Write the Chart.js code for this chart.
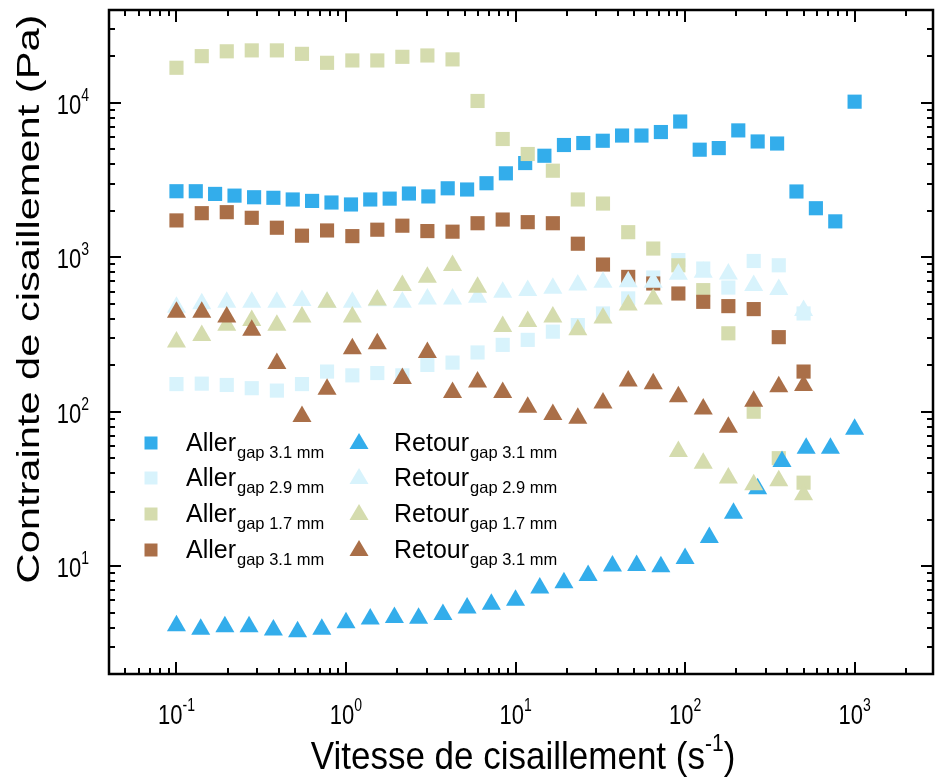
<!DOCTYPE html>
<html>
<head>
<meta charset="utf-8">
<script src="https://cdn.jsdelivr.net/npm/chart.js@4.4.0/dist/chart.umd.min.js"></script>
<style>
  html, body { margin: 0; padding: 0; background: #fff; }
  canvas { display: block; }
</style>
</head>
<body>
<canvas id="mainChart" width="936" height="782"></canvas>
<script>
// shear rates (s-1) for each measurement run
const shearA = [0.1, 0.13, 0.169, 0.22, 0.287, 0.373, 0.485, 0.631, 0.821, 1.07, 1.39, 1.81, 2.35, 3.06, 3.98, 5.18, 6.74, 8.77, 11.4, 14.8, 19.3, 25.1, 32.7, 42.5, 55.3, 72.0, 93.6, 122, 158, 206, 268, 349, 454, 591, 769, 1000];
const shearB = [0.1, 0.139, 0.193, 0.268, 0.373, 0.518, 0.72, 1, 1.39, 1.93, 2.68, 3.73, 5.18, 7.2, 10, 13.9, 19.3, 26.8, 37.3, 51.8, 72, 100, 139, 193, 268, 373, 518, 720, 1000];
const shearC = [0.1, 0.141, 0.198, 0.278, 0.391, 0.55, 0.773, 1.09, 1.53, 2.15, 3.02, 4.25, 5.97, 8.4, 11.8, 16.6, 23.3, 32.8, 46.2, 64.9, 91.3, 128, 180, 254, 357, 500];

// shear stress (Pa)
const allerBlue = [2680, 2680, 2575, 2510, 2450, 2430, 2370, 2320, 2265, 2200, 2370, 2400, 2590, 2480, 2800, 2750, 3020, 3500, 4080, 4550, 5340, 5500, 5690, 6150, 6150, 6480, 7580, 4980, 5100, 6640, 5630, 5460, 2670, 2080, 1710, 10190];
const allerLightBlue = [151, 152, 149, 142, 137, 151, 182, 172, 178, 172, 201, 208, 242, 271, 292, 330, 364, 433, 542, 740, 960, 846, 637, 947, 888, 433];
const allerGreen = [16900, 20100, 21600, 21900, 21900, 20800, 18200, 18850, 18850, 19900, 20300, 19150, 10300, 5840, 4670, 3640, 2370, 2230, 1455, 1140, 888, 613, 322, 100, 50, 34.7];
const allerBrown = [1734, 1932, 1961, 1803, 1555, 1381, 1493, 1372, 1510, 1603, 1479, 1466, 1663, 1757, 1690, 1663, 1225, 898, 747, 677, 583, 515, 483, 462, 304, 182];
const retourBlue = [4.1, 3.9, 4.05, 4.05, 3.85, 3.75, 3.9, 4.3, 4.55, 4.65, 4.6, 4.85, 5.35, 5.65, 6.0, 7.2, 7.8, 8.7, 10.0, 10.1, 9.9, 11.2, 15.3, 22.0, 31.7, 47.5, 58, 58, 77];
const retourLightBlue = [475, 500, 512, 512, 512, 526, 512, 512, 524, 512, 538, 538, 551, 595, 610, 630, 662, 690, 696, 690, 776, 800, 780, 657, 618, 453];
const retourGreen = [283, 312, 363, 390, 363, 410, 512, 410, 530, 657, 743, 884, 639, 357, 384, 410, 340, 404, 492, 538, 55.2, 46.4, 37.2, 33.7, 35.7, 29.0];
const retourBrown = [441, 441, 410, 337, 205, 93, 140, 256, 276, 164, 242, 133, 156, 133, 107, 96, 90.6, 114, 158, 152, 125, 104, 79.3, 117, 145, 148];

const legendMain = ["Aller", "Aller", "Aller", "Aller", "Retour", "Retour", "Retour", "Retour"];
const legendSub = ["gap 3.1 mm", "gap 2.9 mm", "gap 1.7 mm", "gap 3.1 mm", "gap 3.1 mm", "gap 2.9 mm", "gap 1.7 mm", "gap 3.1 mm"];

const xTicks = [0.1, 1, 10, 100, 1000];
const xTickExp = ["-1", "0", "1", "2", "3"];
const yTicks = [10, 100, 1000, 10000];
const yTickExp = ["1", "2", "3", "4"];

const colors = {
  blue: "#33adeb",
  lightBlue: "#d8f3fc",
  green: "#d5dcae",
  brown: "#aa6f48",
};

const FONT = '"Liberation Sans", Arial, Helvetica, sans-serif';

function makeSeries(xs, ys) {
  return xs.map((x, i) => ({ x: x, y: ys[i] }));
}

const seriesList = [
  { data: makeSeries(shearA, allerBlue), color: colors.blue, style: "rect" },
  { data: makeSeries(shearC, allerLightBlue), color: colors.lightBlue, style: "rect" },
  { data: makeSeries(shearC, allerGreen), color: colors.green, style: "rect" },
  { data: makeSeries(shearC, allerBrown), color: colors.brown, style: "rect" },
  { data: makeSeries(shearB, retourBlue), color: colors.blue, style: "triangle" },
  { data: makeSeries(shearC, retourLightBlue), color: colors.lightBlue, style: "triangle" },
  { data: makeSeries(shearC, retourGreen), color: colors.green, style: "triangle" },
  { data: makeSeries(shearC, retourBrown), color: colors.brown, style: "triangle" },
];

const datasets = seriesList.map((s, i) => ({
  label: legendMain[i] + " " + legendSub[i],
  data: s.data,
  pointStyle: s.style,
  pointRadius: s.style === "rect" ? 10 : 11,
  backgroundColor: s.color,
  borderColor: s.color,
  borderWidth: 0,
  showLine: false,
  order: 8 - i, // later series on top
}));

// draws a string, slightly stretched vertically like the source figure
function txt(ctx, s, x, y, size, align, sy) {
  ctx.save();
  ctx.translate(x, y);
  ctx.scale(1, sy);
  ctx.font = size + "px " + FONT;
  ctx.textAlign = align;
  ctx.textBaseline = "alphabetic";
  ctx.fillText(s, 0, 0);
  ctx.restore();
}

function measure(ctx, s, size) {
  ctx.font = size + "px " + FONT;
  return ctx.measureText(s).width;
}

const framePlugin = {
  id: "frame",
  afterDraw(chart) {
    const ctx = chart.ctx;
    const a = chart.chartArea;
    const xs = chart.scales.x;
    const ys = chart.scales.y;
    ctx.save();
    ctx.fillStyle = "#000";
    ctx.strokeStyle = "#000";

    // inward ticks on all four sides
    ctx.lineWidth = 2;
    ctx.beginPath();
    for (let d = -2; d <= 3; d++) {
      for (let m = 1; m <= 9; m++) {
        const v = m * Math.pow(10, d);
        if (v < xs.min || v > xs.max) continue;
        const p = Math.round(xs.getPixelForValue(v));
        const len = m === 1 ? 12 : 6;
        ctx.moveTo(p, a.bottom); ctx.lineTo(p, a.bottom - len);
        ctx.moveTo(p, a.top); ctx.lineTo(p, a.top + len);
      }
    }
    for (let d = 0; d <= 4; d++) {
      for (let m = 1; m <= 9; m++) {
        const v = m * Math.pow(10, d);
        if (v < ys.min || v > ys.max) continue;
        const p = Math.round(ys.getPixelForValue(v));
        const len = m === 1 ? 12 : 6;
        ctx.moveTo(a.left, p); ctx.lineTo(a.left + len, p);
        ctx.moveTo(a.right, p); ctx.lineTo(a.right - len, p);
      }
    }
    ctx.stroke();

    ctx.lineWidth = 2.5;
    ctx.strokeRect(a.left, a.top, a.right - a.left, a.bottom - a.top);

    // tick labels
    xTicks.forEach((v, i) => {
      const p = xs.getPixelForValue(v);
      const w10 = measure(ctx, "10", 22);
      const we = measure(ctx, xTickExp[i], 14);
      const x0 = p - (w10 + we) / 2;
      txt(ctx, "10", x0, 724, 22, "left", 1.25);
      txt(ctx, xTickExp[i], x0 + w10, 711, 14, "left", 1.25);
    });
    yTicks.forEach((v, i) => {
      const p = ys.getPixelForValue(v);
      const we = measure(ctx, yTickExp[i], 14);
      const right = a.left - 20;
      txt(ctx, yTickExp[i], right, p - 2, 14, "right", 1.25);
      txt(ctx, "10", right - we, p + 11, 22, "right", 1.25);
    });

    // axis titles
    const tw = measure(ctx, "Vitesse de cisaillement (s", 35);
    const sw = measure(ctx, "-1", 21);
    const pw = measure(ctx, ")", 35);
    const tx0 = 523 - (tw + sw + pw) / 2;
    txt(ctx, "Vitesse de cisaillement (s", tx0, 769, 35, "left", 1.1);
    txt(ctx, "-1", tx0 + tw, 751, 21, "left", 1.1);
    txt(ctx, ")", tx0 + tw + sw, 769, 35, "left", 1.1);

    ctx.save();
    ctx.translate(39, 299);
    ctx.rotate(-Math.PI / 2);
    ctx.scale(1.3, 1);
    ctx.font = "32px " + FONT;
    ctx.textAlign = "center";
    ctx.fillText("Contrainte de cisaillement (Pa)", 0, 0);
    ctx.restore();

    // legend
    const rows = [443, 478, 514, 550];
    const cols = [{ mx: 151, tx: 186 }, { mx: 359, tx: 394 }];
    seriesList.forEach((s, i) => {
      const col = cols[Math.floor(i / 4)];
      const y = rows[i % 4];
      ctx.fillStyle = s.color;
      ctx.beginPath();
      if (s.style === "rect") {
        ctx.rect(col.mx - 6.5, y - 6.5, 13, 13);
      } else {
        ctx.moveTo(col.mx, y - 10);
        ctx.lineTo(col.mx + 9.5, y + 6);
        ctx.lineTo(col.mx - 9.5, y + 6);
        ctx.closePath();
      }
      ctx.fill();
      ctx.fillStyle = "#000";
      const mw = measure(ctx, legendMain[i], 25);
      txt(ctx, legendMain[i], col.tx, y + 8, 25, "left", 1.05);
      txt(ctx, legendSub[i], col.tx + mw + 1, y + 15, 16.5, "left", 1.05);
    });

    ctx.restore();
  },
};

function initChart() {
  const ctx = document.getElementById("mainChart").getContext("2d");
  new Chart(ctx, {
    type: "scatter",
    data: { datasets: datasets },
    options: {
      responsive: false,
      animation: false,
      devicePixelRatio: 1,
      layout: { autoPadding: false, padding: { left: 109, right: 3, top: 10, bottom: 108 } },
      plugins: {
        legend: { display: false },
        tooltip: { enabled: false },
      },
      scales: {
        x: { type: "logarithmic", min: 0.04, max: 2900, display: false },
        y: { type: "logarithmic", min: 2, max: 40000, display: false },
      },
    },
    plugins: [framePlugin],
  });
}

document.addEventListener("DOMContentLoaded", initChart);
</script>
</body>
</html>
